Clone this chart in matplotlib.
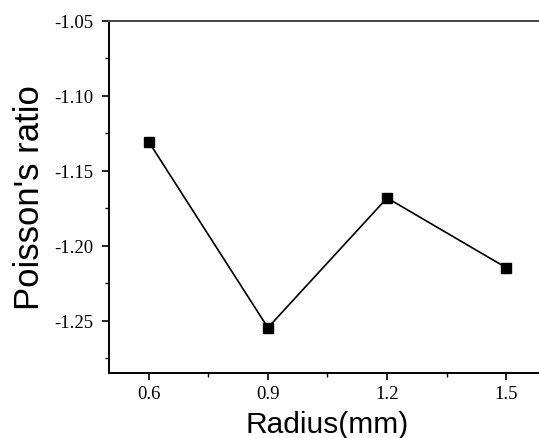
import matplotlib
matplotlib.use("Agg")
import matplotlib.pyplot as plt
from matplotlib.ticker import MultipleLocator

## values
radius = [0.6, 0.9, 1.2, 1.5]
poisson = [-1.1305, -1.2545, -1.168, -1.2145]
xticks = [0.6, 0.9, 1.2, 1.5]
yticks = [-1.05, -1.10, -1.15, -1.20, -1.25]

fig = plt.figure(figsize=(5.39, 4.39), dpi=100)
ax = fig.add_axes([0.2022, 0.148, 1.013 - 0.2022, 0.95 - 0.148])

ax.plot(radius, poisson, color="black", lw=1.2, marker="s", ms=7.8,
        markerfacecolor="black", markeredgecolor="black")

ax.set_xlim(0.5, 1.6)
ax.set_ylim(-1.2847, -1.05)
ax.set_xticks(xticks)
ax.set_xticklabels([f"{v:.1f}" for v in xticks])
ax.set_yticks(yticks)
ax.set_yticklabels([f"{v:.2f}" for v in yticks])
ax.xaxis.set_minor_locator(MultipleLocator(0.15))
ax.yaxis.set_minor_locator(MultipleLocator(0.025))

for lab in ax.get_xticklabels() + ax.get_yticklabels():
    lab.set_family("Liberation Serif")
    lab.set_fontsize(13.5)

ax.tick_params(which="major", direction="out", length=5, width=1.2)
ax.tick_params(which="minor", direction="out", length=3, width=1.0)
ax.tick_params(axis="x", which="major", pad=3.5)
ax.tick_params(axis="y", which="major", pad=6)
ax.tick_params(top=False, right=False, which="both")

ax.spines["right"].set_visible(False)
for s in ["left", "bottom", "top"]:
    ax.spines[s].set_linewidth(1.4)
ax.spines["top"].set_color("#444444")

ax.set_xlabel("Radius(mm)", family="Liberation Sans", fontsize=21.5, labelpad=6)
ax.set_ylabel("Poisson's ratio", family="Liberation Sans", fontsize=25, labelpad=6)

fig.savefig("out.png", dpi=100)
